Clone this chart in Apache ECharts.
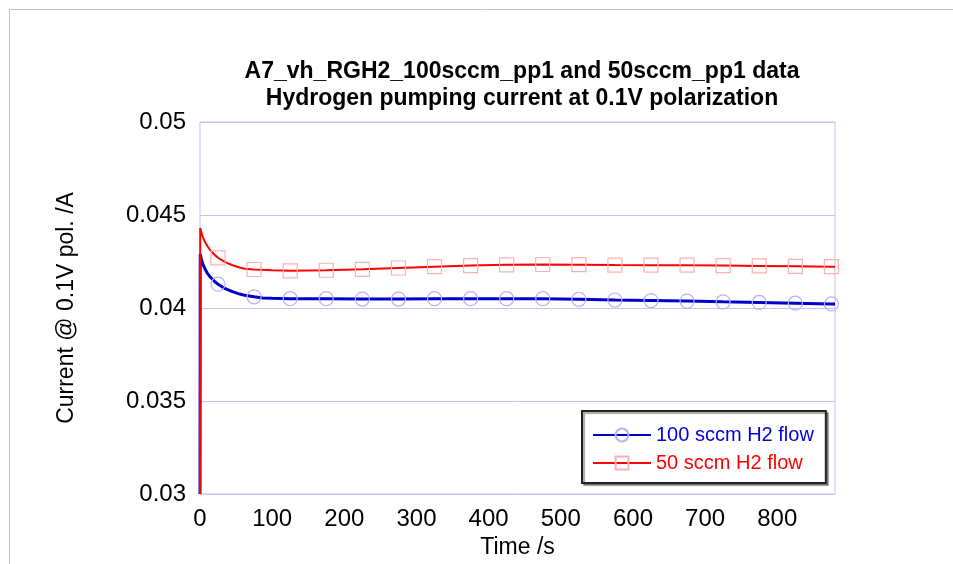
<!DOCTYPE html>
<html><head><meta charset="utf-8">
<script src="https://cdn.jsdelivr.net/npm/echarts@6/dist/echarts.min.js"></script>
<style>html,body{margin:0;padding:0;background:#fff}#c{width:953px;height:564px}</style>
</head><body><div id="c"></div>
<script>
const times = [0, 0.3, 2, 4, 7, 10, 14, 21, 25, 35, 45, 55, 62, 75, 87, 100, 125, 175, 225, 275, 325, 375, 425, 475, 525, 575, 625, 675, 725, 775, 825, 875, 880];
const flow100 = [0.03, 0.0429, 0.0426, 0.04235, 0.0421, 0.04188, 0.04167, 0.0414, 0.04128, 0.04104, 0.04088, 0.04075, 0.04068, 0.0406, 0.04054, 0.04052, 0.0405, 0.0405, 0.04048, 0.04048, 0.0405, 0.0405, 0.0405, 0.0405, 0.04047, 0.04043, 0.0404, 0.04037, 0.04033, 0.0403, 0.04026, 0.04022, 0.04022];
const flow50 = [0.03, 0.0443, 0.04405, 0.0438, 0.04355, 0.04335, 0.04312, 0.04283, 0.0427, 0.04247, 0.0423, 0.04218, 0.04211, 0.04207, 0.04205, 0.04203, 0.042, 0.04203, 0.04208, 0.04215, 0.04222, 0.04228, 0.04232, 0.04234, 0.04233, 0.04231, 0.0423, 0.0423, 0.04228, 0.04226, 0.04224, 0.04222, 0.04222];
const markerTimes = [25, 75, 125, 175, 225, 275, 325, 375, 425, 475, 525, 575, 625, 675, 725, 775, 825, 875];
const xTicks = [0, 100, 200, 300, 400, 500, 600, 700, 800];
const yTicks = [0.03, 0.035, 0.04, 0.045, 0.05];
const seriesNames = ['100 sccm H2 flow', '50 sccm H2 flow'];
const titleLines = ['A7_vh_RGH2_100sccm_pp1 and 50sccm_pp1 data', 'Hydrogen pumping current at 0.1V polarization'];

function build(vals) {
  return times.map((t, i) => markerTimes.includes(t)
    ? { value: [t, vals[i]] }
    : { value: [t, vals[i]], symbol: 'none' });
}

const chart = echarts.init(document.getElementById('c'));
chart.setOption({
  animation: false,
  backgroundColor: '#fff',
  textStyle: { fontFamily: 'Liberation Sans, Arial, sans-serif' },
  graphic: [{
    type: 'rect', shape: { x: 9.5, y: 9.5, width: 1000, height: 700 },
    style: { fill: 'none', stroke: '#c4c4c4', lineWidth: 1 }, silent: true, z: -10
  }],
  title: {
    text: titleLines.join('\n'),
    left: 517, textAlign: 'center', top: 53,
    textStyle: { fontSize: 23, fontWeight: 'bold', color: '#000', lineHeight: 27, fontFamily: 'Liberation Sans, Arial, sans-serif' }
  },
  grid: { left: 200, top: 122, right: 118, bottom: 70, show: true, borderColor: '#c4c4f4', borderWidth: 1 },
  xAxis: {
    type: 'value', min: 0, max: 880, interval: 100,
    name: 'Time /s', nameLocation: 'middle', nameGap: 41,
    nameTextStyle: { fontSize: 23, color: '#000' },
    axisLine: { show: false }, axisTick: { show: false }, splitLine: { show: false },
    axisLabel: { fontSize: 24, color: '#000', margin: 13, showMaxLabel: false,
      formatter: v => xTicks.includes(v) ? String(v) : '' }
  },
  yAxis: {
    type: 'value', min: 0.03, max: 0.05, interval: 0.005,
    name: 'Current @ 0.1V pol. /A', nameLocation: 'middle', nameGap: 122,
    nameTextStyle: { fontSize: 23, color: '#000' },
    axisLine: { show: false }, axisTick: { show: false },
    splitLine: { show: true, lineStyle: { color: '#c4c4f4', width: 1 } },
    axisLabel: { fontSize: 24, color: '#000', margin: 14,
      formatter: v => { const m = yTicks.find(t => Math.abs(t - v) < 1e-9); return m !== undefined ? String(m) : ''; } }
  },
  legend: {
    orient: 'vertical', left: 582, top: 411,
    padding: [14, 12, 10, 10], itemGap: 8,
    itemWidth: 58, itemHeight: 16,
    backgroundColor: '#fff', borderColor: '#222', borderWidth: 2,
    shadowColor: 'rgba(0,0,0,0.35)', shadowOffsetX: 2, shadowOffsetY: 2, shadowBlur: 1,
    textStyle: { fontSize: 20 },
    data: [
      { name: seriesNames[0], textStyle: { color: '#0000dd' } },
      { name: seriesNames[1], textStyle: { color: '#ff0000' } }
    ]
  },
  series: [
    {
      name: seriesNames[0], type: 'line', data: build(flow100),
      symbol: 'circle', symbolSize: 14, showSymbol: true,
      lineStyle: { color: '#0000cc', width: 3 },
      itemStyle: { color: 'rgba(0,0,0,0)', borderColor: '#b4b4f0', borderWidth: 1.2 },
      z: 3
    },
    {
      name: seriesNames[1], type: 'line', data: build(flow50),
      symbol: 'rect', symbolSize: 14, showSymbol: true,
      lineStyle: { color: '#ff0000', width: 2 },
      itemStyle: { color: 'rgba(0,0,0,0)', borderColor: '#ffb0b0', borderWidth: 1.2 },
      z: 4
    }
  ]
});
</script></body></html>
